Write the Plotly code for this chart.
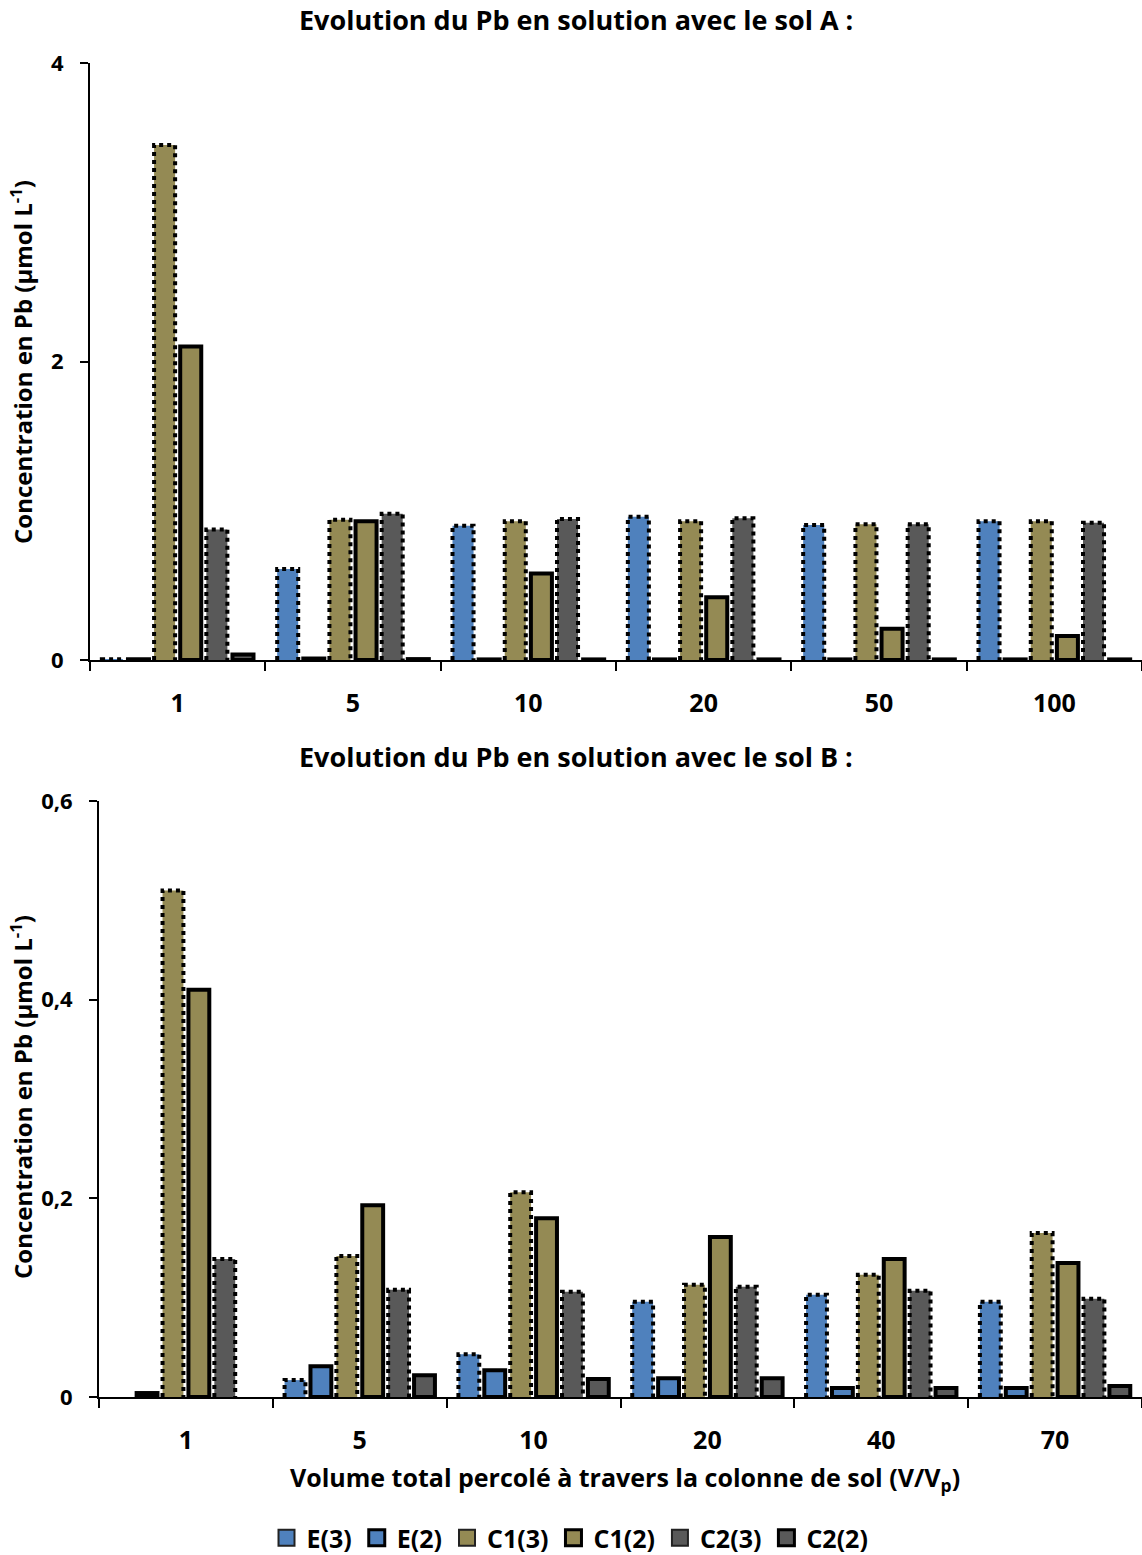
import plotly.graph_objects as go

# ---------------- data ----------------
series_names = ["E(3)", "E(2)", "C1(3)", "C1(2)", "C2(3)", "C2(2)"]

cats_A = ["1", "5", "10", "20", "50", "100"]
E3_A = [0.005, 0.61, 0.90, 0.96, 0.905, 0.93]
E2_A = [0.005, 0.01, 0.004, 0.004, 0.004, 0.004]
C13_A = [3.45, 0.94, 0.93, 0.93, 0.91, 0.93]
C12_A = [2.10, 0.93, 0.58, 0.42, 0.21, 0.16]
C23_A = [0.875, 0.98, 0.945, 0.95, 0.91, 0.92]
C22_A = [0.037, 0.006, 0.004, 0.004, 0.004, 0.004]

cats_B = ["1", "5", "10", "20", "40", "70"]
E3_B = [None, 0.017, 0.043, 0.096, 0.103, 0.096]
E2_B = [0.004, 0.031, 0.027, 0.019, 0.009, 0.009]
C13_B = [0.51, 0.142, 0.206, 0.113, 0.123, 0.165]
C12_B = [0.41, 0.193, 0.180, 0.161, 0.139, 0.135]
C23_B = [0.139, 0.108, 0.106, 0.111, 0.107, 0.099]
C22_B = [None, 0.022, 0.018, 0.019, 0.009, 0.011]

yticks_A = [0, 2, 4]
yticklabels_A = ["0", "2", "4"]
yticks_B = [0, 0.2, 0.4, 0.6]
yticklabels_B = ["0", "0,2", "0,4", "0,6"]

# ---------------- style ----------------
COL_E = "#4F81BD"
COL_C1 = "#948A54"
COL_C2 = "#595959"
colors = [COL_E, COL_E, COL_C1, COL_C1, COL_C2, COL_C2]
dotted = [True, False, True, False, True, False]
FONT = "Open Sans"
FS = 25
W_BAR = 0.12
STEP = 0.149
LW = 4

fig = go.Figure()


def add_panel(values, xa, ya):
    n = len(values[0])
    idx = list(range(n))
    for k, (vals, col, dot, name) in enumerate(zip(values, colors, dotted, series_names)):
        off = (k - 2.5) * STEP - W_BAR / 2
        fig.add_trace(go.Bar(
            x=idx, y=vals, width=W_BAR, offset=off, name=name,
            marker=dict(color=col, line=dict(width=0 if dot else LW, color="black")),
            xaxis=xa, yaxis=ya, showlegend=False, hoverinfo="skip",
        ))
        if dot:
            xs, ys = [], []
            for i, v in zip(idx, vals):
                if v is None or v <= 0:
                    continue
                x0 = i + off
                x1 = x0 + W_BAR
                xs += [x0, x0, x1, x1, None]
                ys += [0, v, v, 0, None]
            fig.add_trace(go.Scatter(
                x=xs, y=ys, mode="lines",
                line=dict(color="black", width=LW, dash="dot"),
                xaxis=xa, yaxis=ya, showlegend=False, hoverinfo="skip",
            ))


add_panel([E3_A, E2_A, C13_A, C12_A, C23_A, C22_A], "x", "y")
add_panel([E3_B, E2_B, C13_B, C12_B, C23_B, C22_B], "x2", "y2")

# legend entries
for col, dot, name in zip(colors, dotted, series_names):
    fig.add_trace(go.Scatter(
        x=[None], y=[None], mode="markers", name=name,
        marker=dict(symbol="square", size=16, color=col,
                    line=dict(color="#222222" if dot else "black", width=2 if dot else 3)),
        xaxis="x2", yaxis="y2", showlegend=True,
    ))

H = 1555
Wd = 1142


def xaxis_cfg(domain_left, cats):
    return dict(
        domain=[domain_left, 1.0], range=[-0.5, 5.5],
        tickmode="array", tickvals=list(range(len(cats))), ticktext=cats,
        ticks="", showgrid=False, zeroline=False,
        showline=True, linecolor="black", linewidth=2,
        tickfont=dict(family=FONT, size=FS, color="black", weight="bold"),
        ticklabelstandoff=20,
        minor=dict(tickmode="array", tickvals=[i - 0.5 for i in range(len(cats) + 1)],
                   ticks="outside", ticklen=9, tickwidth=2, tickcolor="black"),
        fixedrange=True,
    )


def yaxis_cfg(domain, rng, tv, tt, anchor):
    return dict(
        domain=domain, range=rng, tickmode="array", tickvals=tv, ticktext=tt,
        ticks="outside", ticklen=8, tickwidth=2, tickcolor="black",
        showgrid=False, zeroline=False, showline=True, linecolor="black", linewidth=2,
        tickfont=dict(family=FONT, size=22, color="black", weight="bold"),
        ticklabelstandoff=12, anchor=anchor, fixedrange=True,
    )


fig.update_layout(
    width=Wd, height=H,
    margin=dict(l=0, r=0, t=0, b=0, autoexpand=False),
    paper_bgcolor="white", plot_bgcolor="white",
    barmode="overlay",
    font=dict(family=FONT, color="black"),
    xaxis=dict(xaxis_cfg(90 / Wd, cats_A), anchor="y"),
    yaxis=yaxis_cfg([1 - 660 / H, 1 - 63 / H], [0, 4], yticks_A, yticklabels_A, "x"),
    xaxis2=dict(xaxis_cfg(99 / Wd, cats_B), anchor="y2"),
    yaxis2=yaxis_cfg([1 - 1397 / H, 1 - 801 / H], [0, 0.6], yticks_B, yticklabels_B, "x2"),
    legend=dict(orientation="h", x=570 / Wd, xanchor="center", y=1 - 1538 / H, yanchor="middle",
                font=dict(family=FONT, size=FS, color="black", weight="bold"),
                itemwidth=30, tracegroupgap=0, bgcolor="rgba(0,0,0,0)"),
    showlegend=True,
)

ann_font = dict(family=FONT, size=27, color="black", weight="bold")
fig.add_annotation(text="Evolution du Pb en solution avec le sol A :", x=576 / Wd, y=1 - 20 / H,
                   xref="paper", yref="paper", showarrow=False, font=ann_font,
                   xanchor="center", yanchor="middle")
fig.add_annotation(text="Evolution du Pb en solution avec le sol B :", x=576 / Wd, y=1 - 757 / H,
                   xref="paper", yref="paper", showarrow=False, font=ann_font,
                   xanchor="center", yanchor="middle")
ytitle = "Concentration en Pb (µmol L<sup>-1</sup>)"
yt_font = dict(family=FONT, size=24, color="black", weight="bold")
fig.add_annotation(text=ytitle, x=21 / Wd, y=1 - 362 / H, xref="paper", yref="paper",
                   showarrow=False, textangle=-90, font=yt_font,
                   xanchor="center", yanchor="middle")
fig.add_annotation(text=ytitle, x=21 / Wd, y=1 - 1097 / H, xref="paper", yref="paper",
                   showarrow=False, textangle=-90, font=yt_font,
                   xanchor="center", yanchor="middle")
fig.add_annotation(text="Volume total percolé à travers la colonne de sol (V/V<sub>p</sub>)",
                   x=625 / Wd, y=1 - 1478 / H, xref="paper", yref="paper",
                   showarrow=False, font=dict(family=FONT, size=FS, color="black", weight="bold"),
                   xanchor="center", yanchor="middle")

fig.write_html(
    "out.html",
    config={"displayModeBar": False, "staticPlot": False},
    post_script="document.body.style.margin='0';document.body.style.overflow='hidden';"
                "document.documentElement.style.overflow='hidden';",
)
